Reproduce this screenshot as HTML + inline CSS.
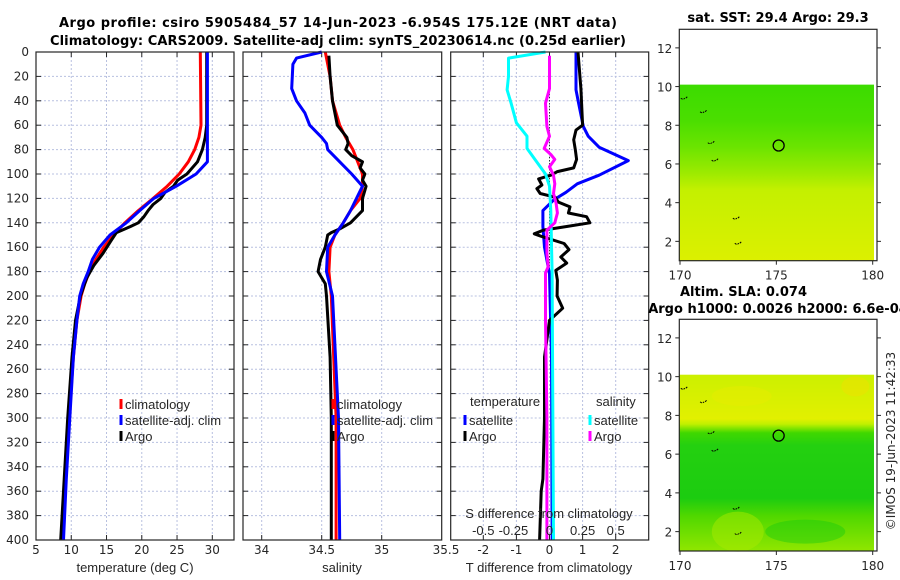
<!DOCTYPE html>
<html><head><meta charset="utf-8"><style>
html,body{margin:0;padding:0;background:#fff;}
svg{display:block;font-family:"DejaVu Sans","Liberation Sans",sans-serif;}
.tk{font-size:12px;fill:#262626;}
.nt{font-family:"Liberation Sans",sans-serif;font-size:13px;fill:#262626;}
.tt{font-weight:bold;font-size:13px;fill:#000;}
</style></head><body>
<svg id="fig" width="900" height="580" viewBox="0 0 900 580" xmlns="http://www.w3.org/2000/svg">
<defs>
<linearGradient id="g1" x1="0" y1="0" x2="0" y2="1">
<stop offset="0" stop-color="#3cdc00"/><stop offset="0.2" stop-color="#4ade00"/><stop offset="0.35" stop-color="#6ae400"/><stop offset="0.5" stop-color="#9cea00"/><stop offset="0.6" stop-color="#c4f000"/><stop offset="1" stop-color="#dcf000"/>
</linearGradient>
<linearGradient id="g2" x1="0" y1="0" x2="0" y2="1">
<stop offset="0" stop-color="#ccf000"/><stop offset="0.25" stop-color="#e2f000"/><stop offset="0.28" stop-color="#c0f000"/><stop offset="0.33" stop-color="#40d800"/><stop offset="0.4" stop-color="#24d010"/><stop offset="0.7" stop-color="#1ccc10"/><stop offset="0.8" stop-color="#50d800"/><stop offset="1" stop-color="#90e600"/>
</linearGradient>
</defs>
<g id="panels"></g>
<text class="tt" x="338" y="27" text-anchor="middle" textLength="558">Argo profile: csiro 5905484_57 14-Jun-2023 -6.954S 175.12E (NRT data)</text>
<text class="tt" x="338" y="45" text-anchor="middle" textLength="576">Climatology: CARS2009. Satellite-adj clim: synTS_20230614.nc (0.25d earlier)</text>
<text class="tt" x="778" y="22" text-anchor="middle">sat. SST: 29.4 Argo: 29.3</text>
<text class="tt" x="680" y="296">Altim. SLA: 0.074</text>
<text class="tt" x="778" y="313" text-anchor="middle">Argo h1000: 0.0026 h2000: 6.6e-04</text>
<text class="tk" transform="translate(895,441) rotate(-90)" text-anchor="middle" font-size="13">©IMOS 19-Jun-2023 11:42:33</text>
</svg>
<script>
const depthClim=[0,60,70,80,90,100,110,120,130,140,150,160,170,180,190,200,220,250,300,350,400];
const tempClim=[28.3,28.4,28.1,27.5,26.6,25.3,23.6,21.6,19.5,17.6,16.0,14.6,13.5,12.6,11.9,11.4,10.8,10.3,9.7,9.2,8.8];
const depthSat=[0,90,100,110,120,130,140,150,160,170,180,190,200,220,250,300,350,400];
const tempSat=[29.3,29.3,27.7,24.9,21.7,19.7,17.8,15.5,14.0,13.0,12.4,11.7,11.2,10.8,10.3,9.8,9.3,8.9];
const depthArgo=[0,60,70,80,90,100,105,110,115,120,125,130,135,140,143,148,155,165,175,185,200,220,250,300,350,400];
const tempArgo=[29.2,29.2,29.0,28.6,27.9,26.4,25.1,24.5,23.3,22.7,21.6,20.9,20.3,19.5,18.4,16.4,15.6,14.5,13.2,12.2,11.3,10.6,10.1,9.5,9.0,8.5];
const depthS=[0,20,40,60,70,75,80,90,100,110,120,130,140,150,160,180,200,250,300,400];
const salClim=[34.53,34.57,34.59,34.65,34.70,34.73,34.76,34.80,34.84,34.84,34.82,34.74,34.68,34.61,34.57,34.56,34.58,34.60,34.62,34.62];
const depthSS=[0,5,10,30,40,50,60,70,75,80,90,100,110,120,130,140,150,160,180,200,300,400];
const salSat=[34.50,34.29,34.26,34.25,34.29,34.36,34.40,34.50,34.54,34.55,34.65,34.75,34.84,34.79,34.74,34.68,34.61,34.55,34.54,34.59,34.64,34.65];
const depthSA=[3,20,40,60,70,75,80,85,90,95,100,105,110,120,130,135,140,145,148,150,160,170,180,185,190,200,250,300,360,400];
const salArgo=[34.56,34.57,34.59,34.63,34.71,34.72,34.70,34.75,34.84,34.82,34.86,34.84,34.87,34.84,34.84,34.79,34.74,34.65,34.58,34.55,34.53,34.49,34.47,34.50,34.53,34.54,34.57,34.58,34.58,34.58];
const dTsatDepth=[0,31,42,61,69,78,89,101,108,115,121,130,143,160,182,250,400];
const dTsat=[0.80,0.80,0.88,1.02,1.17,1.5,2.38,1.5,0.84,0.5,0.14,-0.2,-0.2,-0.15,0.0,0.06,0.08];
const dTargoDepth=[0,30,60,64,72,80,88,95,98,101,104,109,112,116,119,123,127,132,135,140,143,146,149,151,157,162,168,173,179,187,200,210,220,250,300,350,360,400];
const dTargo=[0.86,0.95,1.0,0.8,0.73,0.78,0.82,0.73,0.24,0.04,-0.33,-0.23,-0.38,-0.28,0.17,0.27,0.62,0.57,1.12,1.22,0.52,-0.18,-0.46,-0.26,0.44,0.59,0.34,0.52,0.19,0.24,0.23,0.4,0.0,-0.15,-0.15,-0.2,-0.25,-0.3];
const dSsatDepth=[0,5,20,31,42,58,69,79,88,100,110,130,181,400];
const dSsat=[-0.03,-0.31,-0.31,-0.32,-0.29,-0.25,-0.17,-0.17,-0.11,-0.03,0.0,0.01,0.02,0.03];
const dSargoDepth=[3,30,42,61,69,79,84,88,94,101,108,116,124,132,140,146,154,165,176,181,220,300,400];
const dSargo=[0.0,0.0,-0.03,-0.02,0.0,-0.04,0.01,0.04,0.0,0.03,0.04,0.03,0.05,0.06,0.04,-0.02,-0.02,-0.02,-0.01,-0.03,-0.03,-0.02,-0.02];
const depthTicks=[0,20,40,60,80,100,120,140,160,180,200,220,240,260,280,300,320,340,360,380,400];
const tTicks=[5,10,15,20,25,30];
const sTicks=[34,34.5,35,35.5];
const dTicks=[-2,-1,0,1,2];
const dsTickLabels=['-0.5','-0.25','0','0.25','0.5'];
const latTicks=[2,4,6,8,10,12];
const lonTicks=[170,175,180];
const argoLon=175.12, argoLat=6.954;

const NS='http://www.w3.org/2000/svg';
const root=document.getElementById('panels');
function mk(tag,at,parent){const e=document.createElementNS(NS,tag);for(const k in at)e.setAttribute(k,at[k]);(parent||root).appendChild(e);return e;}
const Y0=52,Y1=540;
const yD=d=>Y0+(Y1-Y0)*d/400;
const xT=v=>36+(v-5)*(212.3-36)/25;
const xS=v=>261.7+(v-34)*120;
const xDT=v=>549.5+v*33.1;
const xDS=v=>549.5+v*132.4;

function frame(x0,x1,name){
  const g=mk('g',{});
  
  
  depthTicks.forEach(d=>{const l=mk('line',{x1:x0,x2:x1,y1:yD(d),y2:yD(d),stroke:'#b8c0e0','stroke-width':1,'stroke-dasharray':'2,2'},g);
    
    mk('line',{x1:x0,x2:x0+5,y1:yD(d),y2:yD(d),stroke:'#262626'},g);mk('line',{x1:x1-5,x2:x1,y1:yD(d),y2:yD(d),stroke:'#262626'},g);});
  return g;
}
function vgrid(g,xs){xs.forEach(x=>{const l=mk('line',{x1:x,x2:x,y1:Y0,y2:Y1,stroke:'#b8c0e0','stroke-width':1,'stroke-dasharray':'2,2'},g);
  
  mk('line',{x1:x,x2:x,y1:Y1-5,y2:Y1,stroke:'#262626'},g);mk('line',{x1:x,x2:x,y1:Y0,y2:Y0+5,stroke:'#262626'},g);});}
function box(g,x0,x1){mk('rect',{x:x0,y:Y0,width:x1-x0,height:Y1-Y0,fill:'none',stroke:'#262626','stroke-width':1.2},g);}
function line(g,vals,deps,fx,color,name,w){
  const p=vals.map((v,i)=>fx(v).toFixed(1)+','+yD(deps[i]).toFixed(1)).join(' ');
  const e=mk('polyline',{points:p,fill:'none',stroke:color,'stroke-width':w||3,'stroke-linejoin':'round'},g);
  
  
}
function txt(g,x,y,s,cls,anchor,name){const t=mk('text',{x:x,y:y,class:cls,'text-anchor':anchor||'start'},g);t.textContent=s;
  return t;}
function legend(g,x,y,color,label,name){mk('line',{x1:x,x2:x,y1:y-10,y2:y,stroke:color,'stroke-width':3},g);txt(g,x+4,y,label,'nt','start',name);}

// Panel 1 temperature
const g1=frame(36,234,'temperature-panel');
vgrid(g1,tTicks.slice(1).map(xT));
line(g1,tempClim,depthClim,xT,'#ff0000','temperature-climatology-line');
line(g1,tempArgo,depthArgo,xT,'#000000','temperature-argo-line');
line(g1,tempSat,depthSat,xT,'#0000ff','temperature-satellite-line');
box(g1,36,234);
depthTicks.forEach(d=>txt(g1,29,yD(d)+4,String(d),'tk','end','depth-tick-label'));
tTicks.forEach(v=>txt(g1,xT(v),554,String(v),'tk','middle','temperature-tick-label'));
txt(g1,135,572,'temperature (deg C)','nt','middle','temperature-axis-title');
legend(g1,121,409,'#ff0000','climatology','legend-climatology');
legend(g1,121,425,'#0000ff','satellite-adj. clim','legend-satellite');
legend(g1,121,441,'#000000','Argo','legend-argo');

// Panel 2 salinity
const g2=frame(243,441.7,'salinity-panel');
vgrid(g2,sTicks.slice(0,3).map(xS));
line(g2,salClim,depthS,xS,'#ff0000','salinity-climatology-line');
line(g2,salArgo,depthSA,xS,'#000000','salinity-argo-line');
line(g2,salSat,depthSS,xS,'#0000ff','salinity-satellite-line');
box(g2,243,441.7);
sTicks.forEach(v=>txt(g2,v===35.5?446:xS(v),554,String(v),'tk','middle','salinity-tick-label'));
txt(g2,342,572,'salinity','nt','middle','salinity-axis-title');
legend(g2,333,409,'#ff0000','climatology','legend-climatology');
legend(g2,333,425,'#0000ff','satellite-adj. clim','legend-satellite');
legend(g2,333,441,'#000000','Argo','legend-argo');

// Panel 3 differences
const g3=frame(450.7,648.7,'difference-panel');
vgrid(g3,dTicks.map(xDT));
const zl=mk('line',{x1:xDT(0),x2:xDT(0),y1:yD(15),y2:yD(200),stroke:'#000','stroke-width':1,'stroke-dasharray':'1,2'},g3);

line(g3,dTsat,dTsatDepth,xDT,'#0000ff','tdiff-satellite-line');
line(g3,dTargo,dTargoDepth,xDT,'#000000','tdiff-argo-line');
line(g3,dSsat,dSsatDepth,xDS,'#00ffff','sdiff-satellite-line');
line(g3,dSargo,dSargoDepth,xDS,'#ff00ff','sdiff-argo-line');
box(g3,450.7,648.7);
dTicks.forEach(v=>txt(g3,xDT(v),554,String(v),'tk','middle','tdiff-tick-label'));
txt(g3,549,572,'T difference from climatology','nt','middle','tdiff-axis-title');
txt(g3,549,518,'S difference from climatology','nt','middle','sdiff-axis-title');
dTicks.forEach((v,i)=>txt(g3,xDT(v)+(i===1?-3:0),535,dsTickLabels[i],'nt','middle','sdiff-tick-label'));
txt(g3,470,406,'temperature','nt','start','legend-temperature-heading');
legend(g3,465,425,'#0000ff','satellite','legend-tdiff-satellite');
legend(g3,465,441,'#000000','Argo','legend-tdiff-argo');
txt(g3,596,406,'salinity','nt','start','legend-salinity-heading');
legend(g3,590,425,'#00ffff','satellite','legend-sdiff-satellite');
legend(g3,590,441,'#ff00ff','Argo','legend-sdiff-argo');

// Maps
function map(top,bottom,grad,name,extra){
  const g=mk('g',{});
  
  
  const L=679.3,R=877,lon=v=>680+(v-170)*19.27;
  const lat=v=>bottom-(v-1)*(bottom-top)/11.96;
  const r=mk('rect',{x:L,y:lat(10.1),width:874-L,height:bottom-lat(10.1),fill:'url(#'+grad+')'},g);
  
  if(extra)extra(g,lon,lat);
  [[171.2,8.7],[171.6,7.1],[171.8,6.2],[172.9,3.2],[173,1.9],[170.2,9.4]].forEach(c=>{
    const k=mk('path',{d:`M${lon(c[0])-3},${lat(c[1])} q2,2 4,0 m1,0 l2,-2`,fill:'none',stroke:'#000','stroke-width':1,'stroke-dasharray':'2,1'},g);
    });
  const c=mk('circle',{cx:lon(argoLon),cy:lat(argoLat),r:5.5,fill:'none',stroke:'#000','stroke-width':1.3},g);
  
  mk('rect',{x:L,y:top,width:R-L,height:bottom-top,fill:'none',stroke:'#262626','stroke-width':1.2},g);
  latTicks.forEach(v=>{mk('line',{x1:L-4,x2:L,y1:lat(v),y2:lat(v),stroke:'#262626'},g);mk('line',{x1:R,x2:R+4,y1:lat(v),y2:lat(v),stroke:'#262626'},g);
    txt(g,L-7,lat(v)+5,String(v),'tk','end','latitude-tick-label').setAttribute('font-size','13');});
  lonTicks.forEach(v=>{mk('line',{x1:lon(v),x2:lon(v),y1:bottom,y2:bottom+4,stroke:'#262626'},g);
    txt(g,lon(v),bottom+19,String(v),'tk','middle','longitude-tick-label').setAttribute('font-size','13');});
}
map(29.3,260.7,'g1','sst-map',null);
map(319.3,551,'g2','sla-map',(g,lon,lat)=>{
  const a=mk('ellipse',{cx:lon(179.1),cy:lat(9.5),rx:14,ry:10,fill:'#f0e000',opacity:0.5},g);
  
  const b=mk('ellipse',{cx:lon(173.2),cy:lat(9),rx:30,ry:10,fill:'#ecec00',opacity:0.4},g);
  
  const c=mk('ellipse',{cx:lon(173),cy:lat(2),rx:26,ry:20,fill:'#a8ea00',opacity:0.5},g);
  
  const d=mk('ellipse',{cx:lon(176.5),cy:lat(2),rx:40,ry:12,fill:'#10c810',opacity:0.4},g);
  
});
</script>
</body></html>
